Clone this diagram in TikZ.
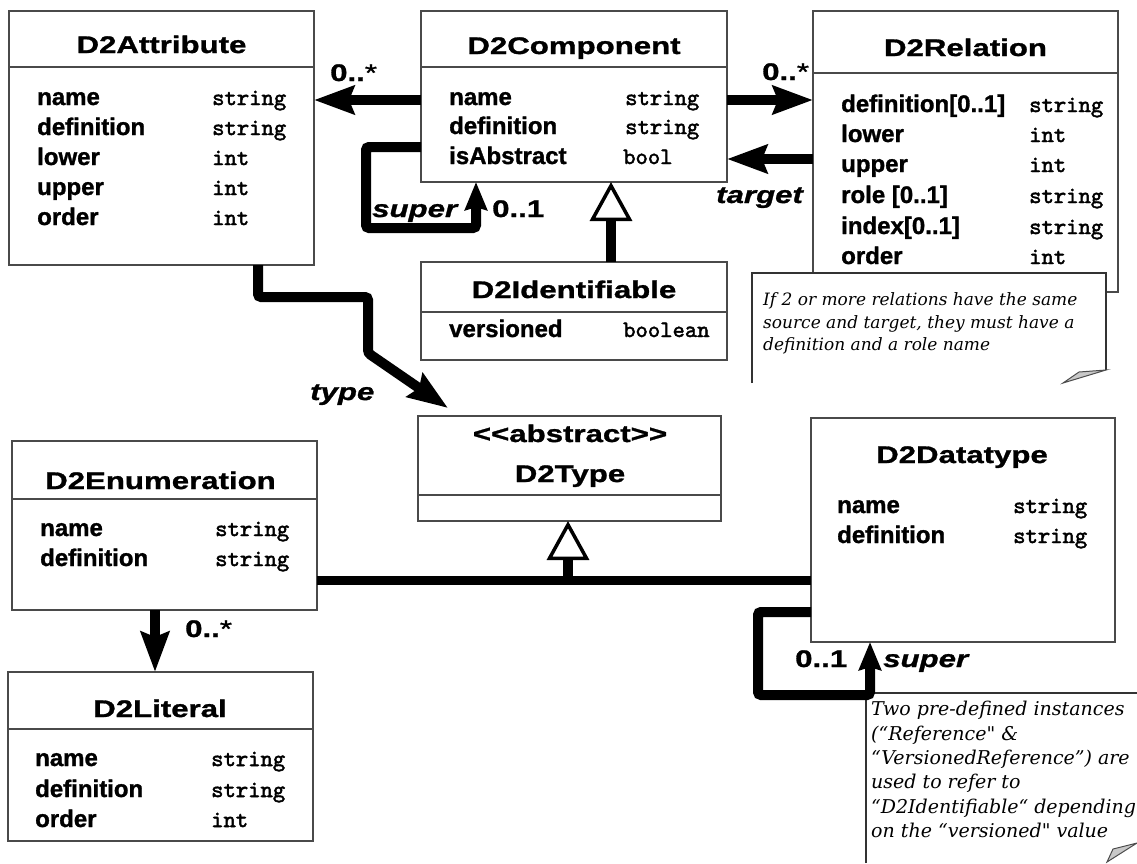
\documentclass[tikz,border=0pt]{standalone}
\usepackage{fontspec}
\usetikzlibrary{arrows.meta}
\setmainfont{Liberation Sans}
\newfontfamily\headfont{Liberation Sans}[FakeStretch=1.3, FakeBold=1.2]
\newfontfamily\fieldfont{Liberation Sans}[FakeBold=1.2]
\newfontfamily\typefont{lmmono10-regular.otf}[FakeBold=2]
\newfontfamily\notefont{DejaVu Serif}[Ligatures=TeXOff]
\definecolor{boxline}{HTML}{4A4A4A}
\definecolor{foldgray}{HTML}{C8C8C8}

% one attribute line of a class: id, x of name, x of type, baseline, name, type
\newcommand{\umlfield}[6]{%
  \node[fieldname] (#1n) at (#2,#4) {#5};
  \node[fieldtype] (#1t) at (#3,#4) {#6};}

\begin{document}
\begin{tikzpicture}[x=1pt,y=-1pt,
  classbox/.style={draw=boxline, line width=1.3pt, fill=white, inner sep=0pt, outer sep=0pt, anchor=north west},
  divider/.style={draw=boxline, line width=1.3pt},
  classname/.style={font=\headfont\bfseries\fontsize{24}{28}\selectfont, anchor=base, inner sep=0pt},
  fieldname/.style={font=\fieldfont\bfseries\fontsize{24}{28}\selectfont, anchor=base west, inner sep=0pt},
  fieldtype/.style={font=\typefont\fontsize{23.5}{26}\selectfont, anchor=base west, inner sep=0pt},
  mult/.style={font=\headfont\bfseries\fontsize{24}{28}\selectfont, anchor=base west, inner sep=0pt},
  role/.style={font=\headfont\bfseries\itshape\fontsize{24}{28}\selectfont, anchor=base west, inner sep=0pt},
  notetext/.style={font=\notefont\itshape\fontsize{17}{20}\selectfont, anchor=base west, inner sep=0pt},
  notetextb/.style={font=\notefont\itshape\fontsize{19}{22}\selectfont, anchor=base west, inner sep=0pt},
  notefill/.style={fill=white},
  noteedge/.style={draw=black!80, line width=1.2pt},
  fold/.style={fill=foldgray, draw=black!70, line width=1pt},
  assoc/.style={line width=10pt, -{Stealth[length=40pt, width=28pt, inset=5pt]}},
  selfref/.style={line width=10pt, rounded corners=3pt, -{Stealth[length=28pt, width=22pt, inset=3pt]}},
  generalize/.style={line width=10pt, -{Triangle[length=39pt, width=42pt, fill=white, line width=3.5pt]}},
  genline/.style={line width=9pt},
]
\fill[white] (0,0) rectangle (1137,863);
\useasboundingbox (0,0) rectangle (1137,863);

% ---------- classes ----------
\node[classbox, minimum width=305pt, minimum height=254pt] (attr) at (9,11) {};
\draw[divider] (attr.west |- 0,67) -- (attr.east |- 0,67);
\node[classname] (attrname) at (161.5,53) {D2Attribute};
\umlfield{a1}{37}{212}{105}{name}{string}
\umlfield{a2}{37}{212}{135}{definition}{string}
\umlfield{a3}{37}{212}{165}{lower}{int}
\umlfield{a4}{37}{212}{195}{upper}{int}
\umlfield{a5}{37}{212}{225}{order}{int}

\node[classbox, minimum width=306pt, minimum height=171pt] (comp) at (421,11) {};
\draw[divider] (comp.west |- 0,67) -- (comp.east |- 0,67);
\node[classname] (compname) at (574,54) {D2Component};
\umlfield{c1}{449}{625}{105}{name}{string}
\umlfield{c2}{449}{625}{134}{definition}{string}
\umlfield{c3}{449}{623}{164}{isAbstract}{bool}

\node[classbox, minimum width=306pt, minimum height=98pt] (ident) at (421,262) {};
\draw[divider] (ident.west |- 0,312) -- (ident.east |- 0,312);
\node[classname] (identname) at (574,298) {D2Identifiable};
\umlfield{i1}{449}{623}{337}{versioned}{boolean}

\node[classbox, minimum width=305pt, minimum height=281pt] (rel) at (813,11) {};
\draw[divider] (rel.west |- 0,73) -- (rel.east |- 0,73);
\node[classname] (relname) at (965.5,56) {D2Relation};
\umlfield{r1}{841}{1029}{112}{definition[0..1]}{string}
\umlfield{r2}{841}{1029}{142}{lower}{int}
\umlfield{r3}{841}{1029}{172}{upper}{int}
\umlfield{r4}{841}{1029}{203}{role [0..1]}{string}
\umlfield{r5}{841}{1029}{234}{index[0..1]}{string}
\umlfield{r6}{841}{1029}{264}{order}{int}

\node[classbox, minimum width=303pt, minimum height=105pt] (dtypeT) at (418,416) {};
\draw[divider] (dtypeT.west |- 0,495) -- (dtypeT.east |- 0,495);
\node[classname] (stereo) at (570,442) {<<abstract>>};
\node[classname] (typename) at (570,482) {D2Type};

\node[classbox, minimum width=305pt, minimum height=169pt] (enum) at (12,441) {};
\draw[divider] (enum.west |- 0,499) -- (enum.east |- 0,499);
\node[classname] (enumname) at (160.5,489) {D2Enumeration};
\umlfield{e1}{40}{215}{536}{name}{string}
\umlfield{e2}{40}{215}{566}{definition}{string}

\node[classbox, minimum width=305pt, minimum height=169pt] (lit) at (8,672) {};
\draw[divider] (lit.west |- 0,729) -- (lit.east |- 0,729);
\node[classname] (litname) at (160,717) {D2Literal};
\umlfield{l1}{35}{211}{766}{name}{string}
\umlfield{l2}{35}{211}{797}{definition}{string}
\umlfield{l3}{35}{211}{827}{order}{int}

\node[classbox, minimum width=304pt, minimum height=224pt] (dtype) at (811,418) {};
\node[classname] (dtypename) at (962,463) {D2Datatype};
\umlfield{d1}{837}{1013}{513}{name}{string}
\umlfield{d2}{837}{1013}{543}{definition}{string}

% ---------- associations ----------
\draw[assoc] (comp.west |- 0,100) -- (attr.east |- 0,100);
\node[mult] (m1) at (330,81) {0..{\mdseries *}};

\draw[assoc] (comp.east |- 0,100) -- (rel.west |- 0,100);
\node[mult] (m2) at (762,80) {0..{\mdseries *}};

\draw[assoc] (rel.west |- 0,159) -- (comp.east |- 0,159);
\node[role] (r-target) at (716,203) {target};

\draw[selfref] (comp.west |- 0,147) -- (366,147) -- (366,228) -- (476,228) -- (comp.south -| 476,0);
\node[role] (r-super1) at (372,217) {super};
\node[mult] (m3) at (492,217) {0..1};

\draw[generalize] (ident.north -| 611,0) -- (comp.south -| 611,0);

\draw[assoc, rounded corners=3pt] (attr.south -| 258,0) -- (258,297) -- (368,297) -- (368,353)
  -- ([xshift=30pt, yshift=8pt]dtypeT.north west);
\node[role] (r-type) at (310,400) {type};

\draw[assoc] (enum.south -| 155,0) -- (lit.north -| 155,0);
\node[mult] (m4) at (185,637) {0..{\mdseries *}};

\coordinate (genjoin) at (568,580);
\draw[genline] (enum.east |- genjoin) -- (dtype.west |- genjoin);
\draw[generalize] (genjoin) -- (dtypeT.south -| genjoin);

% ---------- notes ----------
\fill[notefill] (752,273) -- (1106,273) -- (1106,370) -- (1063,383) -- (752,383) -- cycle;
\draw[noteedge] (752,383) -- (752,273) -- (1106,273) -- (1106,370);
\draw[fold] (1063,383) -- (1079,372) -- (1106,370) -- cycle;
\node[notetext] (n1a) at (763,305) {If 2 or more relations have the same};
\node[notetext] (n1b) at (763,328) {source and target, they must have a};
\node[notetext] (n1c) at (763,350) {definition and a role name};

\fill[notefill] (866,693) -- (1137,693) -- (1137,843) -- (1107,863) -- (866,863) -- cycle;
\draw[noteedge] (866,863) -- (866,693) -- (1137,693);
\draw[fold] (1107,862) -- (1113,849) -- (1137,843) -- cycle;
\node[notetextb] (n2a) at (871,715) {Two pre-defined instances};
\node[notetextb] (n2b) at (871,740) {(“Reference" \&};
\node[notetextb] (n2c) at (871,764) {“VersionedReference”) are};
\node[notetextb] (n2d) at (871,788) {used to refer to};
\node[notetextb] (n2e) at (871,813) {“D2Identifiable“ depending};
\node[notetextb] (n2f) at (871,837) {on the “versioned" value};

\draw[selfref] (dtype.west |- 0,612) -- (758,612) -- (758,695) -- (870,695) -- (dtype.south -| 870,0);
\node[mult] (m5) at (795,667) {0..1};
\node[role] (r-super2) at (883,667) {super};
\end{tikzpicture}
\end{document}
